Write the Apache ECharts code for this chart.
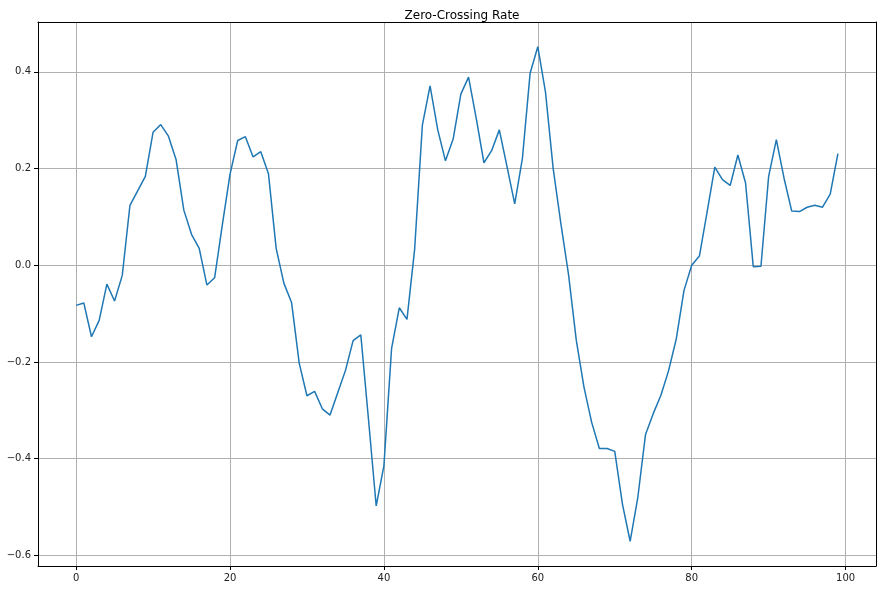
<!DOCTYPE html>
<html>
<head>
<meta charset="utf-8">
<script src="https://cdn.jsdelivr.net/npm/echarts@6/dist/echarts.min.js"></script>
<style>
  html, body { margin: 0; padding: 0; background: #fff; }
  #chart { width: 882px; height: 590px; }
</style>
</head>
<body>
<div id="chart"></div>
<script>
// frame index 0..99
const frames = Array.from({ length: 100 }, (_, i) => i);

// zero-crossing rate
const zcr = [
  -0.083, -0.078, -0.148, -0.114, -0.039, -0.074, -0.021, 0.124, 0.154, 0.184,
  0.275, 0.291, 0.267, 0.218, 0.114, 0.064, 0.035, -0.041, -0.026, 0.083,
  0.188, 0.258, 0.266, 0.224, 0.235, 0.189, 0.035, -0.037, -0.077, -0.203,
  -0.270, -0.261, -0.297, -0.310, -0.264, -0.218, -0.156, -0.144, -0.319, -0.498,
  -0.415, -0.172, -0.088, -0.112, 0.034, 0.290, 0.371, 0.280, 0.216, 0.261,
  0.354, 0.389, 0.304, 0.212, 0.237, 0.280, 0.204, 0.127, 0.221, 0.397,
  0.452, 0.358, 0.200, 0.086, -0.020, -0.155, -0.252, -0.325, -0.379, -0.379,
  -0.385, -0.494, -0.571, -0.480, -0.350, -0.307, -0.269, -0.218, -0.152, -0.052,
  0.000, 0.019, 0.110, 0.203, 0.177, 0.165, 0.228, 0.170, -0.003, -0.002,
  0.184, 0.260, 0.180, 0.112, 0.111, 0.120, 0.124, 0.120, 0.147, 0.231
];

const titleText = 'Zero-Crossing Rate';

const chart = echarts.init(document.getElementById('chart'));

// matplotlib style margins of 5%
const xPad = (frames[frames.length - 1] - frames[0]) * 0.05;
const yMin = Math.min(...zcr), yMax = Math.max(...zcr);
const yPad = (yMax - yMin) * 0.05;
const xRange = { min: frames[0] - xPad, max: frames[frames.length - 1] + xPad };
const yRange = { min: yMin - yPad, max: yMax + yPad };

// matplotlib writes negatives with a real minus sign
const minus = s => s.replace('-', '\u2212');

const spine = { show: true, onZero: false, lineStyle: { color: '#000', width: 1 } };

const axisCommon = {
  type: 'value',
  splitNumber: 5,
  axisLine: spine,
  axisTick: { show: true, inside: false, length: 4, lineStyle: { color: '#000', width: 1 } },
  axisLabel: {
    showMinLabel: false,
    showMaxLabel: false,
    color: '#222',
    fontSize: 10,
    fontFamily: 'DejaVu Sans',
    margin: 7
  },
  splitLine: { show: true, lineStyle: { color: '#b0b0b0', width: 1 } }
};

// top / right spines only
const bareAxis = (pos, range) => Object.assign({
  type: 'value',
  position: pos,
  axisLine: spine,
  axisTick: { show: false },
  axisLabel: { show: false },
  splitLine: { show: false }
}, range);

const option = {
  backgroundColor: '#fff',
  animation: false,
  title: {
    text: titleText,
    left: 457,
    top: 5,
    textAlign: 'center',
    textStyle: { color: '#000', fontSize: 12, fontWeight: 'normal', fontFamily: 'DejaVu Sans' }
  },
  grid: { left: 38, right: 6, top: 22, bottom: 24 },
  xAxis: [
    Object.assign({}, axisCommon, xRange, {
      position: 'bottom',
      axisLabel: Object.assign({}, axisCommon.axisLabel, {
        formatter: v => minus(String(Math.round(v)))
      })
    }),
    bareAxis('top', xRange)
  ],
  yAxis: [
    Object.assign({}, axisCommon, yRange, {
      position: 'left',
      axisLabel: Object.assign({}, axisCommon.axisLabel, {
        formatter: v => minus(v.toFixed(1))
      })
    }),
    bareAxis('right', yRange)
  ],
  series: [{
    type: 'line',
    xAxisIndex: 0,
    yAxisIndex: 0,
    data: frames.map((f, i) => [f, zcr[i]]),
    showSymbol: false,
    symbol: 'none',
    lineStyle: { color: '#1f77b4', width: 1.5 },
    itemStyle: { color: '#1f77b4' }
  }]
};

chart.setOption(option);
</script>
</body>
</html>
